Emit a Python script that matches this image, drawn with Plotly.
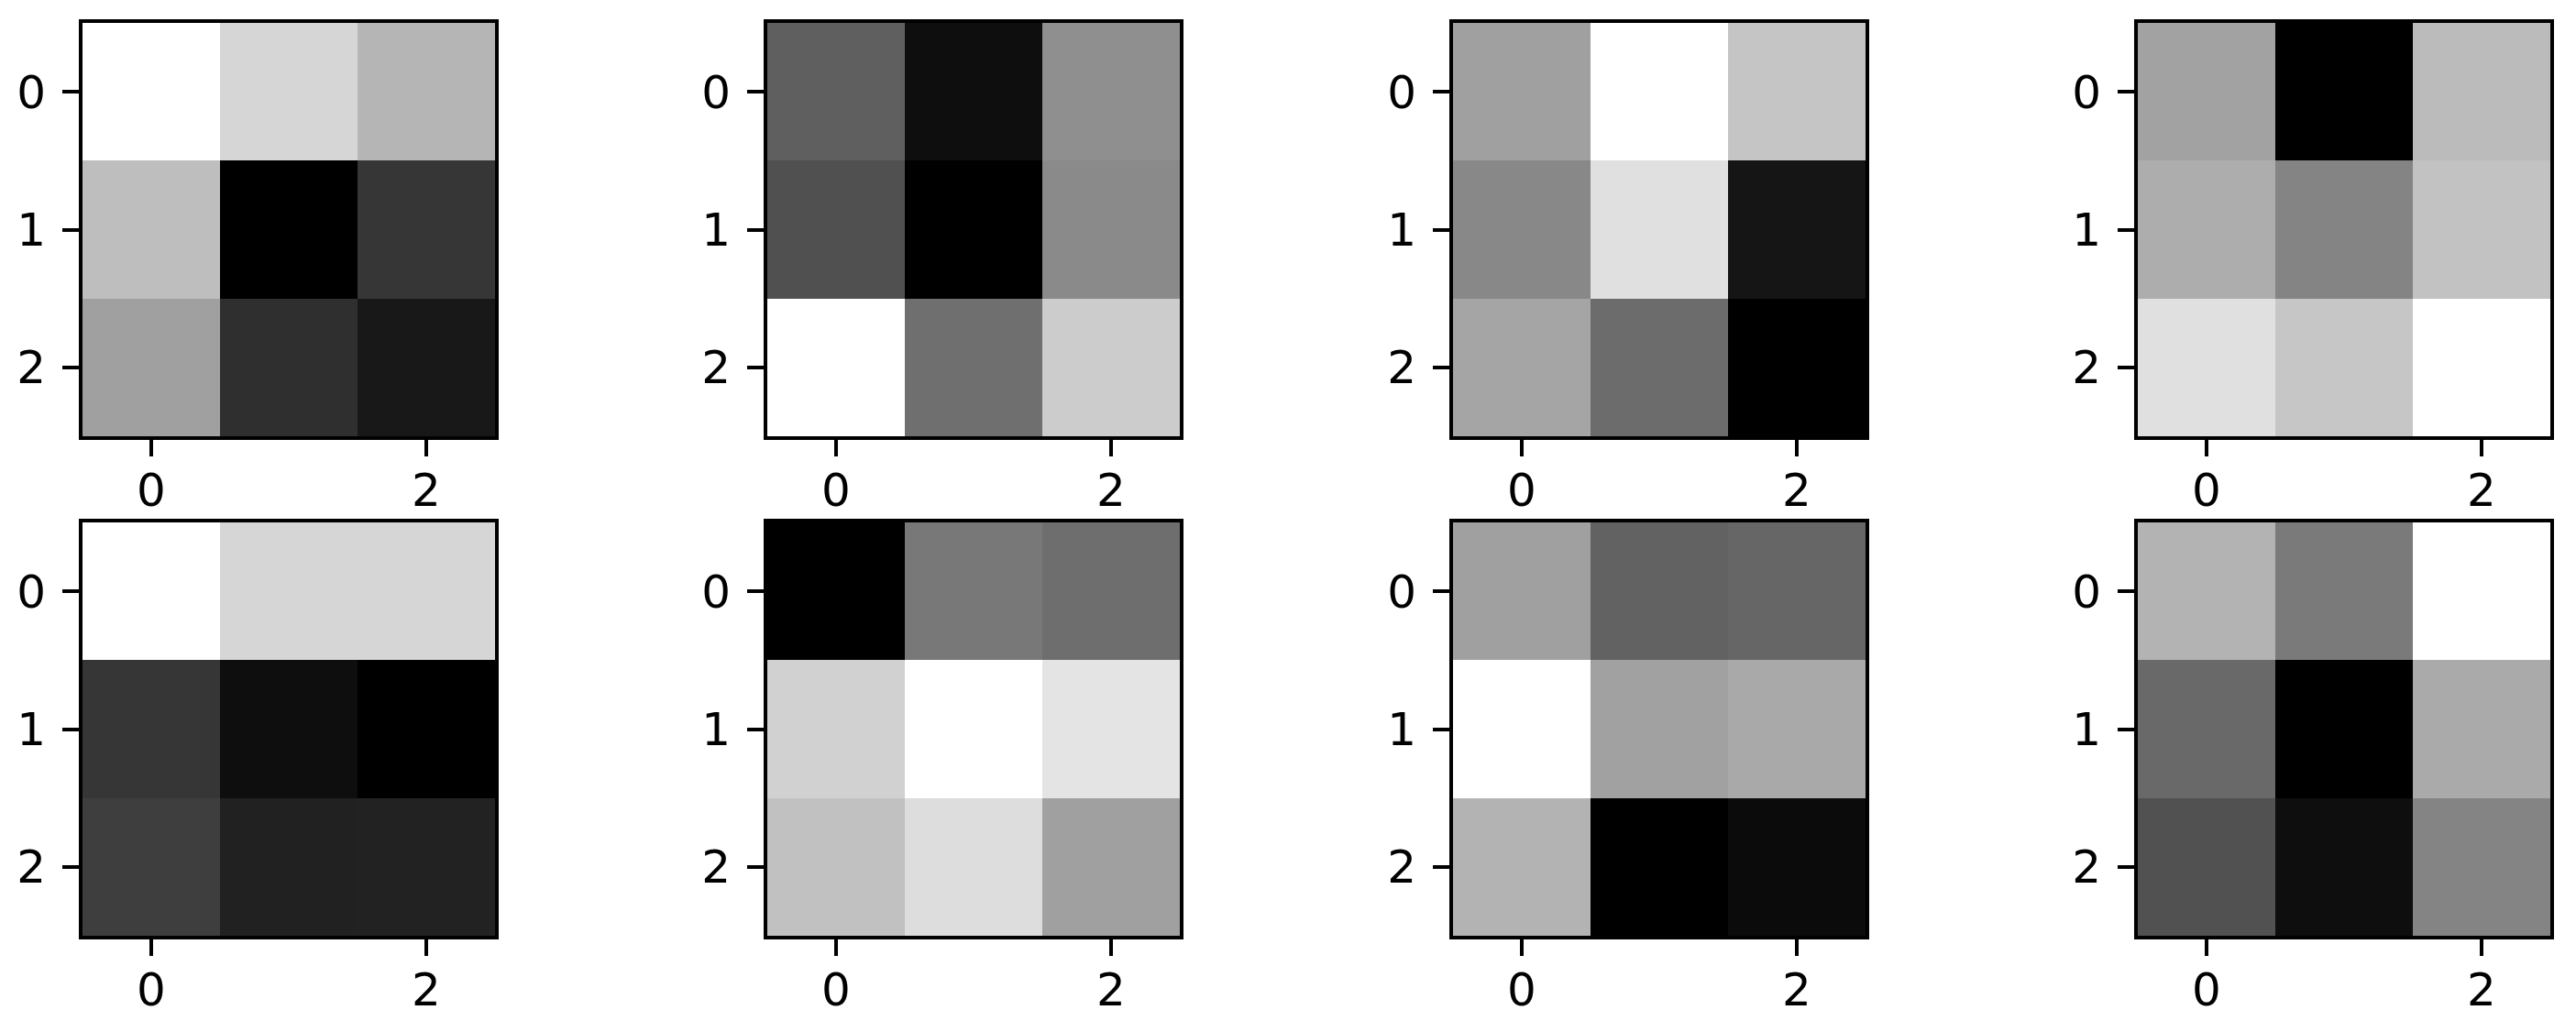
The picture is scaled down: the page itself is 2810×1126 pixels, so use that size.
import plotly.graph_objects as go

# Gray intensity (0 = black, 255 = white) of each 3x3 cell, rows top->bottom
filter_1 = [[255, 214, 181], [190, 0, 54], [160, 47, 24]]
filter_2 = [[95, 14, 143], [80, 0, 138], [255, 111, 204]]
filter_3 = [[160, 255, 197], [136, 224, 21], [165, 108, 0]]
filter_4 = [[162, 0, 187], [173, 132, 194], [224, 198, 255]]
filter_5 = [[255, 214, 214], [54, 14, 0], [62, 33, 34]]
filter_6 = [[0, 120, 110], [209, 255, 228], [193, 221, 160]]
filter_7 = [[160, 98, 102], [255, 161, 169], [179, 0, 11]]
filter_8 = [[179, 122, 255], [105, 0, 170], [81, 14, 132]]

cells = [0, 1, 2]
x_ticks = [0, 2]
y_ticks = [0, 1, 2]

filters = [filter_1, filter_2, filter_3, filter_4,
           filter_5, filter_6, filter_7, filter_8]

W, H = 2810, 1126
col_left = [88, 835, 1583, 2330]   # spine centre lines
box_w = 454
row_top = [23, 568]
box_h = 455
lw = 4

fig = go.Figure()
for i, z in enumerate(filters):
    r, c = divmod(i, 4)
    n = i + 1
    xa = "x" if n == 1 else f"x{n}"
    ya = "y" if n == 1 else f"y{n}"
    fig.add_trace(go.Heatmap(
        z=z, x=cells, y=cells, xaxis=xa, yaxis=ya,
        colorscale=[[0, "#000000"], [1, "#ffffff"]],
        zmin=0, zmax=255, showscale=False, hoverinfo="skip",
    ))
    x0 = (col_left[c] + lw / 2) / W
    x1 = (col_left[c] + box_w - lw / 2) / W
    y1 = 1 - (row_top[r] + lw / 2) / H
    y0 = 1 - (row_top[r] + box_h - lw / 2) / H
    axis_common = dict(
        showline=True, mirror=True, linewidth=lw, linecolor="black",
        ticks="outside", ticklen=18, tickwidth=4, tickcolor="black",
        showgrid=False, zeroline=False, fixedrange=True,
        tickfont=dict(family="DejaVu Sans", size=50, color="black"),
    )
    fig.layout[("xaxis" if n == 1 else f"xaxis{n}")] = dict(
        domain=[x0, x1], anchor=ya, range=[-0.5, 2.5],
        tickmode="array", tickvals=x_ticks, ticktext=[str(t) for t in x_ticks],
        ticklabelstandoff=-6, **axis_common)
    fig.layout[("yaxis" if n == 1 else f"yaxis{n}")] = dict(
        domain=[y0, y1], anchor=xa, range=[2.5, -0.5],
        tickmode="array", tickvals=y_ticks, ticktext=[str(t) for t in y_ticks],
        ticklabelstandoff=8, **axis_common)

fig.update_layout(
    width=W, height=H,
    margin=dict(l=0, r=0, t=0, b=0),
    paper_bgcolor="white", plot_bgcolor="white",
    showlegend=False,
)

fig.write_html(
    "out.html", include_plotlyjs=True,
    config={"displayModeBar": False},
    post_script="document.body.style.margin='0px';",
)
